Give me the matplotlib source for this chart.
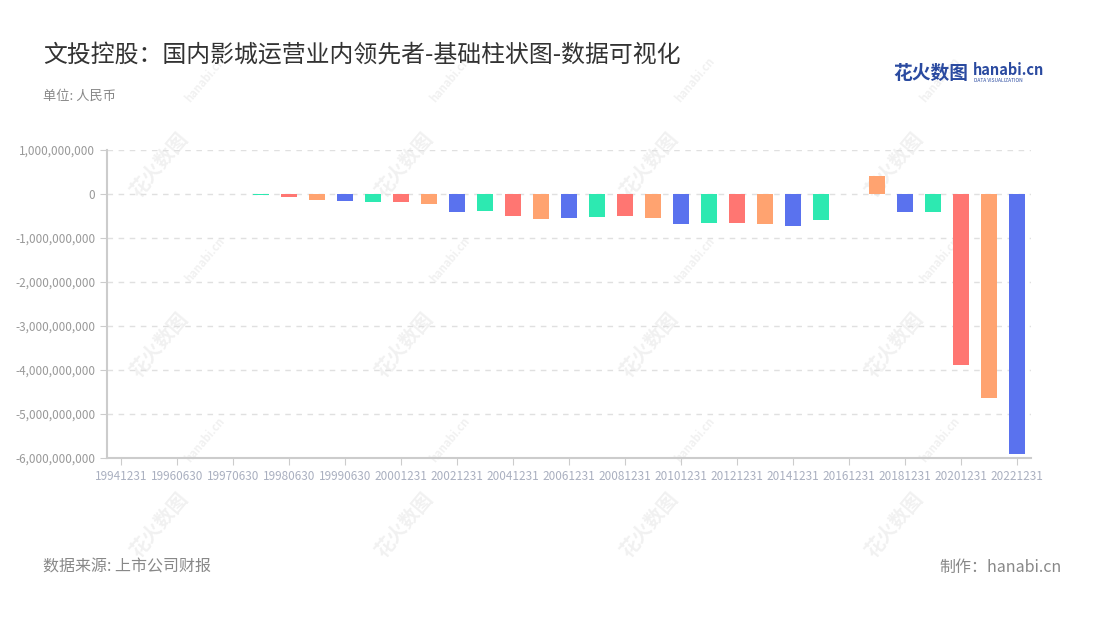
import matplotlib
matplotlib.use("Agg")
import matplotlib.pyplot as plt
from matplotlib.ticker import FuncFormatter, FixedLocator

plt.rcParams['font.family'] = ['Noto Sans CJK SC', 'DejaVu Sans']

dates = ["19941231", "19951231", "19960630", "19961231", "19970630", "19971231",
         "19980630", "19981231", "19990630", "19991231", "20001231", "20011231",
         "20021231", "20031231", "20041231", "20051231", "20061231", "20071231",
         "20081231", "20091231", "20101231", "20111231", "20121231", "20131231",
         "20141231", "20151231", "20161231", "20171231", "20181231", "20191231",
         "20201231", "20211231", "20221231"]
values = [0.0, 0.0, -0.004e9, 0.008e9, -0.003e9, -0.02e9,
          -0.06e9, -0.136e9, -0.166e9, -0.19e9, -0.18e9, -0.227e9,
          -0.40e9, -0.39e9, -0.51e9, -0.57e9, -0.54e9, -0.52e9,
          -0.51e9, -0.545e9, -0.675e9, -0.66e9, -0.65e9, -0.68e9,
          -0.73e9, -0.59e9, -0.004e9, 0.41e9, -0.40e9, -0.41e9,
          -3.89e9, -4.64e9, -5.92e9]
palette = ["#5A72EE", "#2DE9B1", "#FF7672", "#FFA370"]
y_ticks = [1e9, 0, -1e9, -2e9, -3e9, -4e9, -5e9, -6e9]

fig = plt.figure(figsize=(11, 6.2), dpi=100)
ax = fig.add_axes([107 / 1100, 1 - 458 / 620, (1031 - 107) / 1100, (458 - 150) / 620])
ax.patch.set_alpha(0)

xs = list(range(len(dates)))
colors = [palette[i % 4] for i in xs]
ax.bar(xs, values, width=0.6, color=colors, zorder=3)

ax.set_xlim(-0.5, len(dates) - 0.5)
ax.set_ylim(-6e9, 1e9)
ax.yaxis.set_major_locator(FixedLocator(y_ticks))
ax.yaxis.set_major_formatter(FuncFormatter(lambda v, p: f"{int(round(v)):,}"))
ax.grid(axis='y', color='#e0e0e0', linestyle=(0, (4, 4)), linewidth=1, zorder=0)
ax.set_xticks(xs[::2])
ax.set_xticklabels(dates[::2])

for s in ['top', 'right']:
    ax.spines[s].set_visible(False)
ax.spines['left'].set_color('#cccccc')
ax.spines['left'].set_linewidth(1.5)
ax.spines['bottom'].set_color('#cccccc')
ax.spines['bottom'].set_linewidth(1.5)
ax.tick_params(axis='y', colors='#cccccc', labelcolor='#999999', labelsize=8.5, length=5)
ax.tick_params(axis='x', colors='#cccccc', labelcolor='#aab0c0', labelsize=8.5, length=5, pad=4)

fig.text(43 / 1100, 1 - 56 / 620, "文投控股：国内影城运营业内领先者-基础柱状图-数据可视化",
         fontsize=17.2, color='#333333', va='center', ha='left')
fig.text(43 / 1100, 1 - 96 / 620, "单位: 人民币", fontsize=9.5, color='#888888',
         va='center', ha='left')
fig.text(43 / 1100, 1 - 567 / 620, "数据来源: 上市公司财报", fontsize=11.5, color='#888888',
         va='center', ha='left')
fig.text(1062 / 1100, 1 - 567 / 620, "制作：hanabi.cn", fontsize=11.5, color='#888888',
         va='center', ha='right')

# logo
fig.text(893 / 1100, 1 - 73 / 620, "花火数图", fontsize=13.5, color='#2a4aa0',
         va='center', ha='left', fontweight='bold')
fig.text(973 / 1100, 1 - 70 / 620, "hanabi.cn", fontsize=10.5, color='#2a4aa0',
         va='center', ha='left', fontweight='bold')
fig.text(974 / 1100, 1 - 80 / 620, "DATA VISUALIZATION", fontsize=3.5, color='#2a4aa0',
         va='center', ha='left')

# watermarks (behind the chart)
for cx in [160, 405, 650, 895]:
    for cy in [165, 345, 525]:
        fig.text(cx / 1100, 1 - cy / 620, "花火数图", fontsize=14, color='#000000',
                 alpha=0.06, rotation=50, ha='center', va='center', fontweight='bold',
                 zorder=-1)
        fig.text((cx + 45) / 1100, 1 - (cy - 85) / 620, "hanabi.cn", fontsize=8,
                 color='#000000', alpha=0.06, rotation=50, ha='center', va='center',
                 fontweight='bold', zorder=-1)

fig.savefig("out.png", dpi=100)
